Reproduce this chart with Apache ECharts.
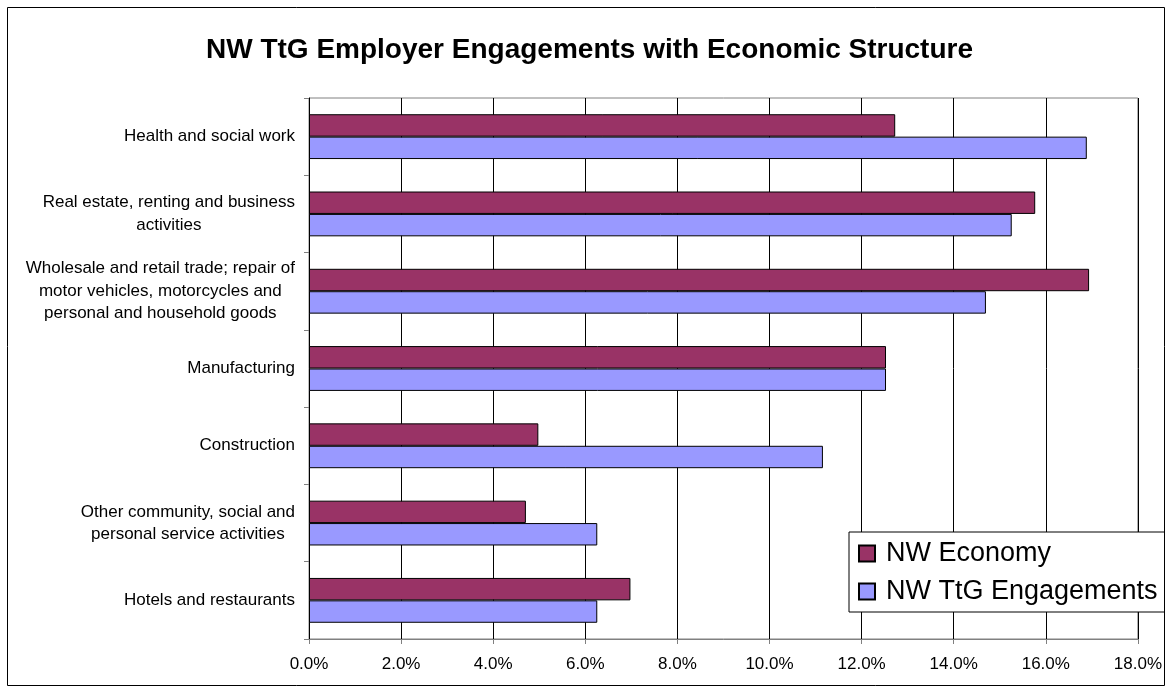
<!DOCTYPE html>
<html>
<head>
<meta charset="utf-8">
<script src="https://cdn.jsdelivr.net/npm/echarts@6/dist/echarts.min.js"></script>
<style>
  html, body { margin: 0; padding: 0; background: #fff; }
  #chart { width: 1165px; height: 688px; }
</style>
</head>
<body>
<div id="chart"></div>
<script>
// Sectors, listed bottom-to-top as they stack on the category axis
const categories = [
  'Hotels and restaurants',
  'Other community, social and\npersonal service activities',
  'Construction',
  'Manufacturing',
  'Wholesale and retail trade; repair of\nmotor vehicles, motorcycles and\npersonal and household goods',
  'Real estate, renting and business\nactivities',
  'Health and social work'
];

// Share of employment (%) per sector
const nwEconomy = [6.98, 4.71, 4.98, 12.53, 16.94, 15.77, 12.73];
const nwTtgEngagements = [6.26, 6.26, 11.16, 12.53, 14.70, 15.26, 16.89];

const seriesNames = ['NW Economy', 'NW TtG Engagements'];
const xTickValues = [0, 2, 4, 6, 8, 10, 12, 14, 16, 18];

const FONT = '"Liberation Sans", Arial, sans-serif';

// Each line of a wrapped label is centred inside the right-aligned label block
function centredLines(label) {
  return label.split('\n').map(function (line) { return '{c|' + line + '}'; }).join('\n');
}

const chart = echarts.init(document.getElementById('chart'), null, { renderer: 'canvas' });

chart.setOption({
  backgroundColor: '#ffffff',
  animation: false,
  title: {
    text: 'NW TtG Employer Engagements with Economic Structure',
    left: 201,
    top: 31,
    textStyle: { fontFamily: FONT, fontSize: 28, fontWeight: 'bold', color: '#000' }
  },
  legend: {
    data: seriesNames,
    orient: 'vertical',
    left: 849,
    top: 532,
    padding: [8, 9, 7, 9],
    itemWidth: 16,
    itemHeight: 16,
    itemGap: 11,
    backgroundColor: '#ffffff',
    borderColor: '#000000',
    borderWidth: 1,
    borderRadius: 0,
    icon: 'rect',
    textStyle: { fontFamily: FONT, fontSize: 27, color: '#000', padding: [0, 0, 0, 6] }
  },
  grid: {
    left: 309,
    right: 25,
    top: 98,
    bottom: 49,
    show: true,
    borderColor: '#808080',
    borderWidth: 1
  },
  xAxis: {
    type: 'value',
    min: xTickValues[0],
    max: xTickValues[xTickValues.length - 1],
    interval: 2,
    axisLine: { show: true, lineStyle: { color: '#808080', width: 1 } },
    axisTick: { show: true, length: 5, lineStyle: { color: '#808080' } },
    splitLine: { show: true, lineStyle: { color: '#000000', width: 1 } },
    axisLabel: {
      margin: 17,
      fontFamily: FONT,
      fontSize: 17,
      color: '#000',
      formatter: function (v) { return v.toFixed(1) + '%'; }
    }
  },
  yAxis: {
    type: 'category',
    data: categories,
    axisLine: { show: true, lineStyle: { color: '#000000', width: 1 } },
    axisTick: { show: true, length: 5, lineStyle: { color: '#808080' } },
    splitLine: { show: false },
    axisLabel: {
      margin: 14,
      fontFamily: FONT,
      fontSize: 17,
      lineHeight: 22.5,
      color: '#000',
      formatter: centredLines,
      rich: { c: { align: 'center', fontFamily: FONT, fontSize: 17, lineHeight: 22.5, color: '#000' } }
    }
  },
  series: [
    {
      name: seriesNames[0],
      type: 'bar',
      data: nwEconomy,
      barWidth: '29%',
      barGap: '0%',
      itemStyle: { color: '#993366', borderColor: '#000000', borderWidth: 1 }
    },
    {
      name: seriesNames[1],
      type: 'bar',
      data: nwTtgEngagements,
      barWidth: '29%',
      barGap: '0%',
      itemStyle: { color: '#9999FF', borderColor: '#000000', borderWidth: 1 }
    }
  ],
  graphic: [
    {
      type: 'rect',
      silent: true,
      z: 100,
      shape: { x: 7.5, y: 7.5, width: 1157, height: 678 },
      style: { fill: 'none', stroke: '#000000', lineWidth: 1 }
    }
  ]
});
</script>
</body>
</html>
